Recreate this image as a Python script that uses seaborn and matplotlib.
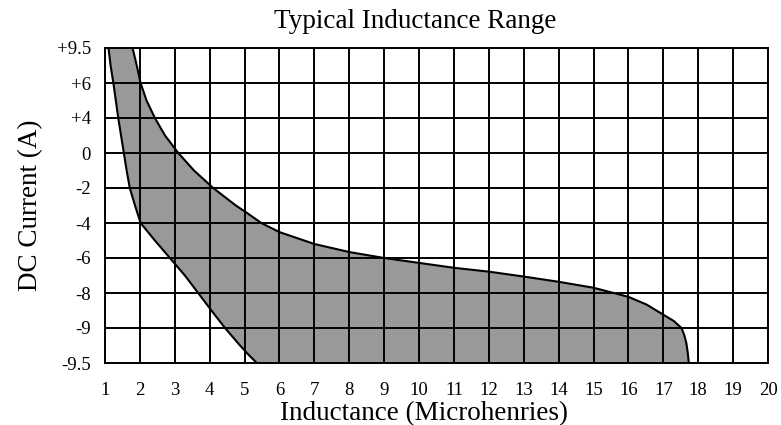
import matplotlib.pyplot as plt
import seaborn as sns

sns.set_theme(style="white")
plt.rcParams["font.family"] = ["Liberation Serif", "DejaVu Serif"]

OUT_PATH = "out.png"

# rows are evenly spaced, bottom to top
Y_LABELS = ["-9.5", "-9", "-8", "-6", "-4", "-2", "0", "+4", "+6", "+9.5"]
X_TICKS = list(range(1, 21))

# low-inductance edge, top to bottom (y is the row index, 0 = -9.5 A)
LOW_Y = [9, 8.5, 8, 7.5, 7, 6.5, 6, 5.5, 5, 4.5, 4, 3.5, 3, 2.5, 2, 1.5, 1, 0.5, 0.25, 0]
LOW_X = [1.10, 1.16, 1.24, 1.31, 1.38, 1.46, 1.54, 1.62, 1.71, 1.86, 2.02, 2.43,
         2.86, 3.29, 3.67, 4.05, 4.44, 4.87, 5.10, 5.35]

# high-inductance edge, bottom to top
HIGH_Y = [0, 0.3, 0.57, 0.8, 1.0, 1.2, 1.38, 1.67, 1.89, 2.15, 2.32, 2.47, 2.61, 2.72,
          2.86, 3.0, 3.17, 3.4, 3.74, 4.0, 4.3, 4.5, 5, 5.5, 6, 6.5, 7, 7.5, 8, 8.5, 9]
HIGH_X = [17.73, 17.70, 17.66, 17.60, 17.52, 17.30, 17.0, 16.52, 16.0, 15.0, 14.0,
          13.0, 12.0, 11.0, 10.0, 9.0, 8.0, 7.0, 6.0, 5.48, 5.05, 4.75, 4.10, 3.55,
          3.10, 2.72, 2.43, 2.19, 2.02, 1.91, 1.79]


def main() -> None:
    fig = plt.figure(figsize=(7.81, 4.25), dpi=100)
    ax = fig.add_axes([105 / 781, 1 - 363 / 425, 663 / 781, 315 / 425])

    # shaded band between the two edges
    ax.fill(LOW_X + HIGH_X, LOW_Y + HIGH_Y, color="#999999", lw=0, zorder=1)

    sns.lineplot(x=LOW_X, y=LOW_Y, sort=False, estimator=None, color="black",
                 lw=1.5, ax=ax, zorder=3)
    sns.lineplot(x=HIGH_X, y=HIGH_Y, sort=False, estimator=None, color="black",
                 lw=1.5, ax=ax, zorder=3)

    ax.set_xlim(1, 20)
    ax.set_ylim(0, len(Y_LABELS) - 1)
    ax.set_xticks(X_TICKS)
    ax.set_yticks(range(len(Y_LABELS)))
    ax.set_yticklabels(Y_LABELS)
    ax.grid(True, color="black", lw=1.4, zorder=2)
    ax.set_axisbelow(False)
    for spine in ax.spines.values():
        spine.set_color("black")
        spine.set_linewidth(1.4)
        spine.set_zorder(4)

    ax.tick_params(axis="both", length=0, labelsize=13.5, colors="black")
    ax.tick_params(axis="x", pad=14)
    ax.tick_params(axis="y", pad=10)

    ax.set_xlabel("Inductance (Microhenries)", fontsize=19.5, color="black")
    ax.xaxis.label.set_va("baseline")
    ax.xaxis.set_label_coords((424 - 105) / 663, -(420 - 363) / 315)
    ax.set_ylabel("DC Current (A)", fontsize=19.5, color="black", labelpad=10)
    fig.text(415 / 781, 1 - 28.3 / 425, "Typical Inductance Range", fontsize=19.5,
             ha="center", va="baseline", color="black")

    fig.savefig(OUT_PATH, dpi=100)
    plt.close(fig)


if __name__ == "__main__":
    main()
